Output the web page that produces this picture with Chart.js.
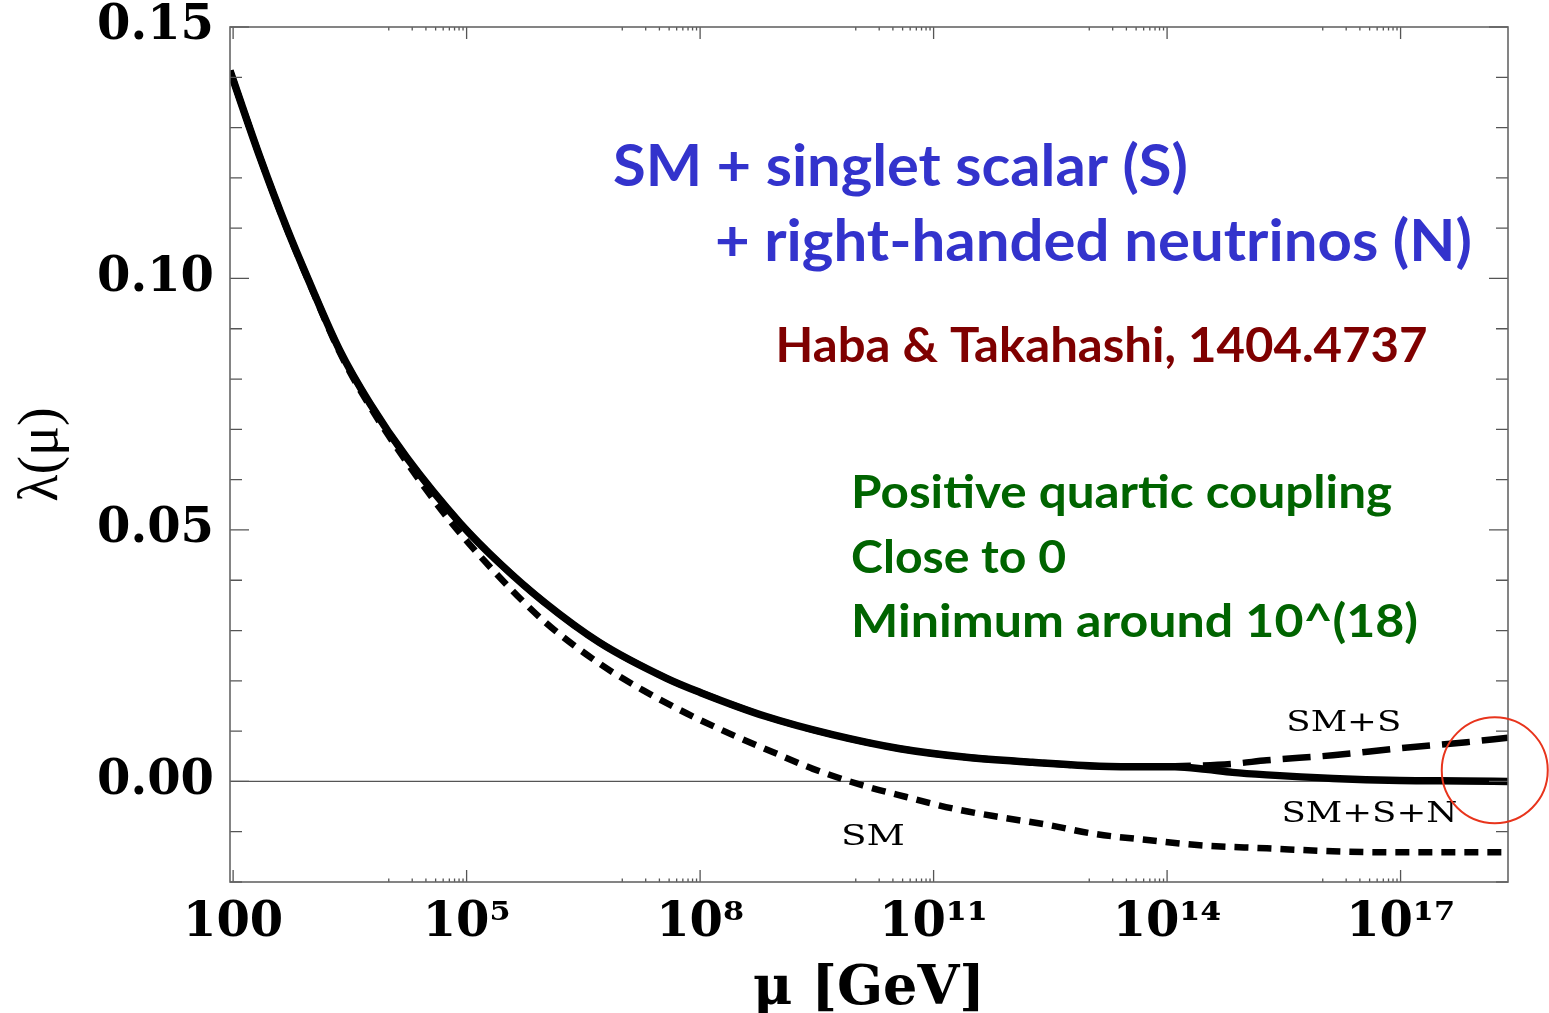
<!DOCTYPE html>
<html><head><meta charset="utf-8">
<script src="https://cdn.jsdelivr.net/npm/chart.js@4.4.1/dist/chart.umd.min.js"></script>
<style>html,body{margin:0;padding:0;background:#fff;}#wrap{width:1549px;height:1013px;}</style>
</head><body><div id="wrap"><canvas id="c" width="1549" height="1013"></canvas></div>
<script>
// ---- axis ranges ----
const MU_MIN = 91.19, MU_MAX = 2.4e18;
const Y_MIN = -0.02, Y_MAX = 0.15;

// ---- data: log10(mu/GeV) and lambda(mu) ----
const smsnLogMu  = [1.96,2.35,2.69,2.96,3.37,3.76,4.23,4.92,5.43,6.0,6.71,7.57,8.0,8.85,9.7,10.57,11.42,12.27,13.13,13.8,14.1,14.5,14.84,15.28,16.13,16.99,17.8,18.38];
const smsnLambda = [0.1413,0.1239,0.1100,0.1000,0.0857,0.0751,0.0644,0.0513,0.0433,0.0356,0.0276,0.0205,0.0177,0.0129,0.0093,0.0065,0.0048,0.0038,0.0030,0.0029,0.0029,0.0024,0.0018,0.0013,0.0006,0.0002,0.0001,0.0000];

const smsLogMu  = [1.96,2.35,2.69,2.96,3.37,3.76,4.23,4.92,5.43,6.0,6.71,7.57,8.0,8.85,9.7,10.57,11.42,12.27,13.13,13.8,14.1,14.84,15.28,16.13,16.99,17.85,18.38];
const smsLambda = [0.1413,0.1239,0.1100,0.1000,0.0857,0.0751,0.0644,0.0513,0.0433,0.0356,0.0276,0.0205,0.0177,0.0129,0.0093,0.0065,0.0048,0.0038,0.0030,0.0029,0.0030,0.0035,0.0042,0.0052,0.0066,0.0078,0.0087];

const smLogMu  = [1.96,2.35,2.69,2.96,3.37,3.76,4.23,4.75,5.43,6.0,6.71,7.27,7.83,8.38,8.94,9.45,10.09,10.65,11.25,11.85,12.49,13.05,13.78,14.42,15.28,16.13,16.99,18.38];
const smLambda = [0.1413,0.1239,0.1099,0.0998,0.0853,0.0745,0.0635,0.0525,0.0405,0.0318,0.0234,0.0181,0.0135,0.0095,0.0058,0.0025,-0.0008,-0.0031,-0.0054,-0.0071,-0.0087,-0.0104,-0.0117,-0.0127,-0.0133,-0.0139,-0.0141,-0.0141];

// ---- tick labels ----
const xMajorTicks = [1e2, 1e5, 1e8, 1e11, 1e14, 1e17];
const xTickLabels = ['100', '10\u2075', '10\u2078', '10\u00B9\u00B9', '10\u00B9\u2074', '10\u00B9\u2077'];
const yMajorTicks = [0, 0.05, 0.10, 0.15];
const yTickLabels = ['0.00', '0.05', '0.10', '0.15'];

// minor ticks: 1..9 x 10^(m-1) below each major decade (m >= 5); y every 0.01
const xAllTicks = [];
xMajorTicks.forEach(m => {
  if (m >= 1e5) for (let k = 1; k <= 9; k++) xAllTicks.push({ value: k * m / 10, major: false });
  xAllTicks.push({ value: m, major: true });
});
const yAllTicks = [];
for (let k = -2; k <= 15; k++) {
  yAllTicks.push({ value: k / 100, major: k % 5 === 0 });
}

const toPts = (lm, l) => lm.map((e, i) => ({ x: Math.pow(10, e), y: l[i] }));

// ---- text annotations (data coordinates: log10 mu, lambda) ----
const notes = [
  { text: 'SM + singlet scalar (S)', lm: 6.88, lam: 0.1184, align: 'left', font: 'bold 58px Lato', color: '#3333CC', w: 575 },
  { text: '+ right-handed neutrinos (N)', lm: 8.19, lam: 0.1035, align: 'left', font: 'bold 58px Lato', color: '#3333CC', w: 757 },
  { text: 'Haba & Takahashi, 1404.4737', lm: 8.97, lam: 0.0833, align: 'left', font: 'bold 48px Lato', color: '#7F0000', w: 652 },
  { text: 'Positive quartic coupling', lm: 9.94, lam: 0.0543, align: 'left', font: 'bold 46px Lato', color: '#006400', w: 541 },
  { text: 'Close to 0', lm: 9.94, lam: 0.0415, align: 'left', font: 'bold 46px Lato', color: '#006400', w: 215 },
  { text: 'Minimum around 10^(18)', lm: 9.94, lam: 0.0288, align: 'left', font: 'bold 46px Lato', color: '#006400', w: 567 },
  { text: 'SM+S', lm: 16.27, lam: 0.0101, align: 'center', font: '28px "DejaVu Serif"', color: '#000', w: 115 },
  { text: 'SM+S+N', lm: 16.60, lam: -0.0081, align: 'center', font: '28px "DejaVu Serif"', color: '#000', w: 176 },
  { text: 'SM', lm: 10.22, lam: -0.0127, align: 'center', font: '28px "DejaVu Serif"', color: '#000', w: 64 }
];
const circleNote = { lm: 18.21, lam: 0.0022, r: 53 };

const decorPlugin = {
  id: 'decor',
  beforeDatasetsDraw(chart) {
    const { ctx, chartArea: a, scales: { y } } = chart;
    const y0 = y.getPixelForValue(0);
    ctx.save();
    ctx.strokeStyle = '#555'; ctx.lineWidth = 1.3;
    ctx.beginPath(); ctx.moveTo(a.left, y0); ctx.lineTo(a.right, y0); ctx.stroke();
    ctx.restore();
  },
  afterDatasetsDraw(chart) {
    const { ctx, chartArea: a, scales: { x, y } } = chart;
    ctx.save();
    ctx.strokeStyle = '#555'; ctx.lineWidth = 1.3;
    ctx.beginPath();
    x.ticks.forEach(t => {
      const px = x.getPixelForValue(t.value);
      const len = t.major ? 12 : 3.5;
      ctx.moveTo(px, a.bottom); ctx.lineTo(px, a.bottom - len);
      ctx.moveTo(px, a.top); ctx.lineTo(px, a.top + len);
    });
    y.ticks.forEach(t => {
      const py = y.getPixelForValue(t.value);
      const len = t.major ? 19 : 12;
      ctx.moveTo(a.left, py); ctx.lineTo(a.left + len, py);
      ctx.moveTo(a.right, py); ctx.lineTo(a.right - len, py);
    });
    ctx.stroke();
    ctx.strokeStyle = '#666'; ctx.lineWidth = 1.6;
    ctx.strokeRect(a.left, a.top, a.right - a.left, a.bottom - a.top);

    // annotations
    notes.forEach(n => {
      const px = x.getPixelForValue(Math.pow(10, n.lm));
      const py = y.getPixelForValue(n.lam);
      ctx.font = n.font;
      ctx.fillStyle = n.color;
      ctx.textBaseline = 'alphabetic';
      ctx.textAlign = n.align;
      const mw = ctx.measureText(n.text).width;
      const sx = n.w / mw;
      ctx.save();
      ctx.translate(px, py);
      ctx.scale(sx, 1);
      ctx.fillText(n.text, 0, 0);
      ctx.restore();
    });
    // red circle
    const cx = x.getPixelForValue(Math.pow(10, circleNote.lm));
    const cy = y.getPixelForValue(circleNote.lam);
    ctx.strokeStyle = '#E8341C'; ctx.lineWidth = 2;
    ctx.beginPath(); ctx.arc(cx, cy, circleNote.r, 0, Math.PI * 2); ctx.stroke();
    ctx.restore();
  }
};

new Chart(document.getElementById('c'), {
  type: 'line',
  data: {
    datasets: [
      { label: 'SM+S+N', data: toPts(smsnLogMu, smsnLambda), borderColor: '#000', borderWidth: 7.5, pointRadius: 0, cubicInterpolationMode: 'monotone', fill: false, order: 0 },
      { label: 'SM+S', data: toPts(smsLogMu, smsLambda), borderColor: '#000', borderWidth: 6.5, borderDash: [28, 12], pointRadius: 0, cubicInterpolationMode: 'monotone', fill: false, order: 1 },
      { label: 'SM', data: toPts(smLogMu, smLambda), borderColor: '#000', borderWidth: 6.5, borderDash: [14, 9], pointRadius: 0, cubicInterpolationMode: 'monotone', fill: false, order: 2 }
    ]
  },
  options: {
    responsive: false,
    animation: false,
    events: [],
    layout: { padding: { top: 27, right: 41, bottom: 0, left: 0 } },
    plugins: { legend: { display: false }, tooltip: { enabled: false } },
    scales: {
      x: {
        type: 'logarithmic', min: MU_MIN, max: MU_MAX, position: 'bottom',
        afterBuildTicks: s => { s.ticks = xAllTicks.map(t => ({ value: t.value, major: t.major })); },
        afterFit: s => { s.height = 131; s.paddingLeft = 0; s.paddingRight = 0; },
        grid: { display: false, drawTicks: false },
        border: { display: false },
        ticks: {
          autoSkip: false, maxRotation: 0, minRotation: 0, padding: 13, color: '#000',
          font: { family: 'DejaVu Serif', weight: 'bold', size: 48 },
          callback: v => { const i = xMajorTicks.indexOf(v); return i >= 0 ? xTickLabels[i] : ''; }
        },
        title: { display: true, text: 'μ [GeV]', color: '#000', font: { family: 'DejaVu Serif', weight: 'bold', size: 54, lineHeight: 1 }, padding: { top: 0, bottom: -4 } }
      },
      y: {
        type: 'linear', min: Y_MIN, max: Y_MAX,
        afterBuildTicks: s => { s.ticks = yAllTicks.map(t => ({ value: t.value, major: t.major })); },
        afterFit: s => { s.width = 230; s.paddingTop = 0; s.paddingBottom = 0; },
        grid: { display: false, drawTicks: false },
        border: { display: false },
        ticks: {
          autoSkip: false, padding: 16, color: '#000',
          font: { family: 'DejaVu Serif', weight: 'bold', size: 48 },
          callback: v => { const i = yMajorTicks.findIndex(m => Math.abs(m - v) < 1e-9); return i >= 0 ? yTickLabels[i] : ''; }
        },
        title: { display: true, text: 'λ(μ)', color: '#000', font: { family: 'Liberation Serif', size: 56, lineHeight: 1 }, padding: { top: 14, bottom: 0 } }
      }
    }
  },
  plugins: [decorPlugin]
});
</script></body></html>
